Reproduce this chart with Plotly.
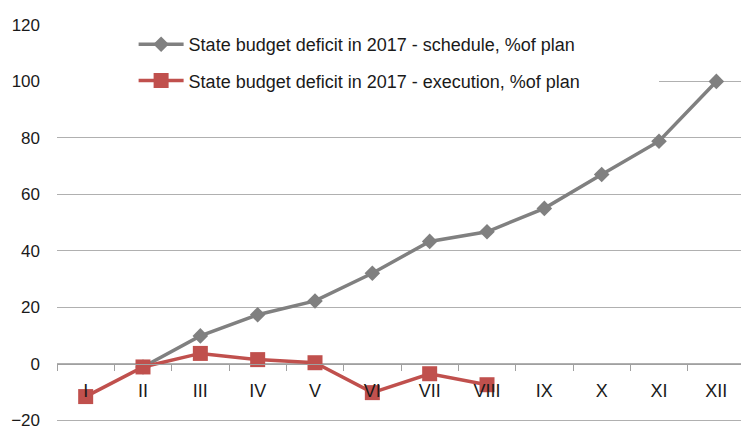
import plotly.graph_objects as go

months = ["I", "II", "III", "IV", "V", "VI", "VII", "VIII", "IX", "X", "XI", "XII"]
schedule = [None, -1.2, 9.8, 17.3, 22.2, 32.0, 43.3, 46.7, 55.0, 67.0, 78.8, 100.0]
execution = [-11.7, -1.2, 3.6, 1.4, 0.3, -10.3, -3.6, -7.5, None, None, None, None]
name_schedule = "State budget deficit in 2017 - schedule, %of plan"
name_execution = "State budget deficit in 2017 - execution, %of plan"
y_ticks = [-20, 0, 20, 40, 60, 80, 100, 120]

GRAY = "#808080"
RED = "#c0504d"
FONT = "Liberation Sans, Arial, sans-serif"

Y_MIN, Y_MAX = -20.71, 120.35

fig = go.Figure()
fig.add_trace(go.Scatter(
    x=months, y=schedule, name=name_schedule, mode="lines+markers",
    line=dict(color=GRAY, width=3.5),
    marker=dict(symbol="diamond", size=12, color=GRAY),
    legendgroup="a", connectgaps=False,
))
fig.add_trace(go.Scatter(
    x=months, y=execution, name=name_execution, mode="lines+markers",
    line=dict(color=RED, width=3.5),
    marker=dict(symbol="square", size=15, color=RED),
    legendgroup="b", connectgaps=False,
))

# white backing behind legend (covers gridline like the original)
fig.add_shape(type="rect", xref="x", yref="y", x0=-0.5, x1=10.0, y0=83, y1=118,
              fillcolor="white", line=dict(width=0), layer="between")

fig.update_layout(
    width=741, height=426,
    margin=dict(l=57, r=0, t=24, b=4, autoexpand=False),
    paper_bgcolor="white", plot_bgcolor="white",
    font=dict(family=FONT, size=17, color="#1a1a1a"),
    showlegend=True,
    legend=dict(
        x=0.112, y=0.995, xanchor="left", yanchor="top",
        bgcolor="rgba(0,0,0,0)", font=dict(size=18, color="#1a1a1a"),
        tracegroupgap=10, itemwidth=45,
    ),
    xaxis=dict(
        type="category", range=[-0.5, 11.43], automargin=False,
        anchor="free", position=(0 - Y_MIN) / (Y_MAX - Y_MIN),
        showgrid=False, showline=True, linecolor="#a0a0a0", linewidth=1.2,
        ticks="outside", tickson="boundaries", ticklen=6, tickcolor="#a0a0a0",
        ticklabelstandoff=11,
        tickfont=dict(size=18, color="#1a1a1a"),
    ),
    yaxis=dict(
        range=[Y_MIN, Y_MAX], tickvals=y_ticks, automargin=False,
        showgrid=True, gridcolor="#b0b0b0", gridwidth=1.2,
        zeroline=False, showline=False,
        ticks="", ticklabelstandoff=16, ticklabeloverflow="allow",
        tickfont=dict(size=17, color="#1a1a1a"),
    ),
)

fig.write_html("out.html")
